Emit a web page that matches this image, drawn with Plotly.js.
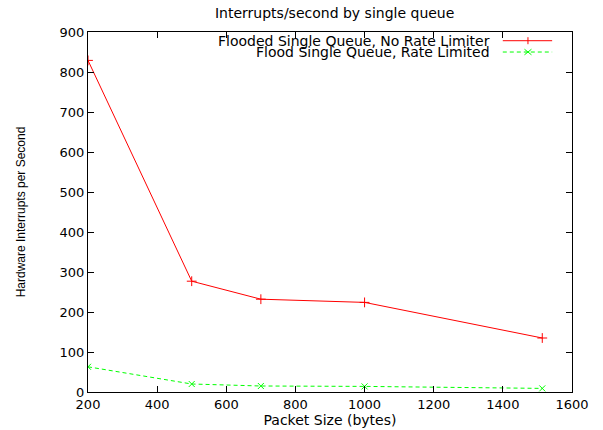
<!DOCTYPE html>
<html><head><meta charset="utf-8">
<script src="https://cdn.plot.ly/plotly-3.0.1.min.js"></script>
<style>body{margin:0;background:#fff}#c{width:603px;height:430px}</style>
</head><body><div id="c"></div>
<script>
var packetSizes = [200, 500, 700, 1000, 1514];
var noRateLimiter = [829, 277, 232, 224, 135];
var rateLimited = [63, 20, 15, 14, 9];
var seriesNames = ["Flooded Single Queue, No Rate Limiter", "Flood Single Queue, Rate Limited"];
var xTicks = [200, 400, 600, 800, 1000, 1200, 1400, 1600];
var yTicks = [0, 100, 200, 300, 400, 500, 600, 700, 800, 900];

var font = "DejaVu Sans, Verdana, sans-serif";
var traces = [
  {x: packetSizes, y: noRateLimiter, name: seriesNames[0], mode: "lines+markers",
   line: {color: "#ff0000", width: 1},
   marker: {symbol: "cross-thin", size: 7, line: {color: "#ff0000", width: 1}}},
  {x: packetSizes, y: rateLimited, name: seriesNames[1], mode: "lines+markers",
   line: {color: "#00ff00", width: 1, dash: "4px,3px"},
   marker: {symbol: "x-thin", size: 6, line: {color: "#00ff00", width: 1}}}
];

// legend drawn gnuplot-style: text right-aligned, sample on the right
var legY = [0.9758, 0.9444];
var annotations = [], shapes = [];
var colors = ["#ff0000", "#00ff00"];
for (var i = 0; i < 2; i++) {
  annotations.push({xref: "paper", yref: "paper", x: 0.835, y: legY[i], xanchor: "right", yanchor: "middle",
    text: seriesNames[i], showarrow: false, font: {family: font, size: 14, color: "#000"}});
  shapes.push({type: "line", xref: "paper", yref: "paper", x0: 0.857, x1: 0.959, y0: legY[i], y1: legY[i],
    line: {color: colors[i], width: 1, dash: i ? "4px,3px" : "solid"}});
}
// legend markers
var mx = 0.909, dx = 3.5/484, dy = 3.5/360;
shapes.push({type: "line", xref: "paper", yref: "paper", x0: mx, x1: mx, y0: legY[0]-dy, y1: legY[0]+dy, line: {color: "#ff0000", width: 1}});
shapes.push({type: "line", xref: "paper", yref: "paper", x0: mx-dx, x1: mx+dx, y0: legY[1]-dy*0.8, y1: legY[1]+dy*0.8, line: {color: "#00ff00", width: 1}});
shapes.push({type: "line", xref: "paper", yref: "paper", x0: mx-dx, x1: mx+dx, y0: legY[1]+dy*0.8, y1: legY[1]-dy*0.8, line: {color: "#00ff00", width: 1}});

var layout = {
  width: 603, height: 430,
  margin: {l: 88, r: 31, t: 32, b: 38},
  paper_bgcolor: "#fff", plot_bgcolor: "#fff",
  showlegend: false,
  title: {text: "Interrupts/second by single queue", font: {family: font, size: 14, color: "#000"}, x: 0.555, xanchor: "center", y: 0.97, yanchor: "middle"},
  xaxis: {range: [200, 1600], tickvals: xTicks, ticks: "inside", ticklen: 6, tickcolor: "#000",
    showline: true, linecolor: "#000", linewidth: 1, mirror: "ticks", showgrid: false, zeroline: false,
    tickfont: {family: font, size: 13, color: "#000"},
    title: {text: "Packet Size (bytes)", font: {family: font, size: 14, color: "#000"}, standoff: 3}},
  yaxis: {range: [0, 900], tickvals: yTicks, ticks: "inside", ticklen: 6, tickcolor: "#000",
    showline: true, linecolor: "#000", linewidth: 1, mirror: "ticks", showgrid: false, zeroline: false,
    tickfont: {family: font, size: 13, color: "#000"},
    title: {text: "Hardware Interrupts per Second", font: {family: "Liberation Sans, Arial, sans-serif", size: 12, color: "#000"}, standoff: 31}},
  annotations: annotations,
  shapes: shapes
};
Plotly.newPlot("c", traces, layout, {displayModeBar: false, staticPlot: true});
</script></body></html>
